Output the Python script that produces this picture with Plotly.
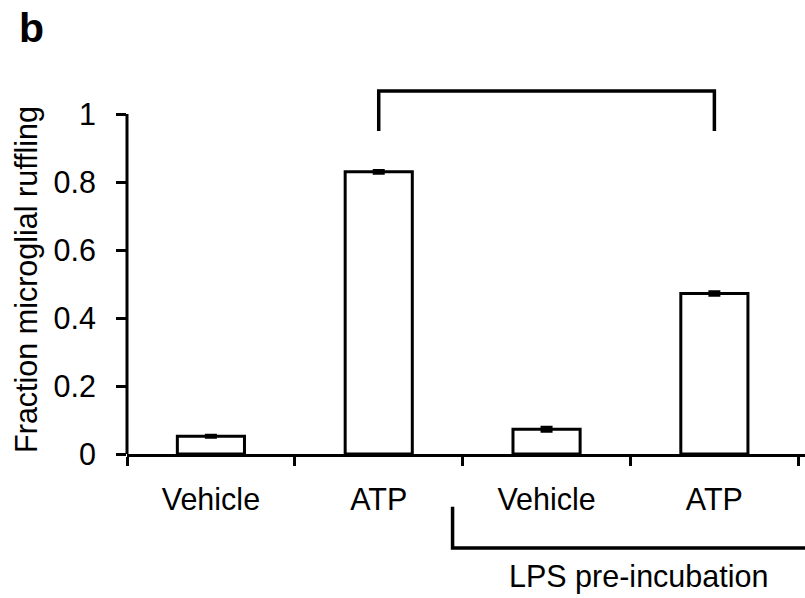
import plotly.graph_objects as go

# ---- data ----
categories = ["Vehicle", "ATP", "Vehicle", "ATP"]
positions = [0, 1, 2, 3]
values = [0.052, 0.830, 0.073, 0.472]
errors = [0.003, 0.004, 0.006, 0.005]
y_tickvals = [0, 0.2, 0.4, 0.6, 0.8, 1.0]
y_ticktext = ["0", "0.2", "0.4", "0.6", "0.8", "1"]
boundaries = [-0.5, 0.5, 1.5, 2.5, 3.5]
y_title = "Fraction microglial ruffling"
group_label = "LPS pre-incubation"
panel_label = "b"

# comparison bracket between the two ATP bars
bracket_pair = [1, 3]
bracket_top = 1.068
bracket_bottom = 0.95

FONT = "Liberation Sans, Arial, Helvetica, sans-serif"
fs = 30.5

fig = go.Figure(
    go.Bar(
        x=positions,
        y=values,
        width=0.4,
        marker=dict(color="white", line=dict(color="black", width=3)),
        error_y=dict(type="data", array=errors, color="black", thickness=3, width=6),
        hoverinfo="skip",
    )
)

shapes = []
# y-axis line from 0 to 1 only
shapes.append(dict(type="line", xref="paper", yref="y", x0=0, x1=0, y0=0, y1=1,
                   line=dict(color="black", width=3)))
# top bracket
shapes.append(dict(type="path", xref="x", yref="y",
                   path=f"M {bracket_pair[0]},{bracket_bottom} L {bracket_pair[0]},{bracket_top} "
                        f"L {bracket_pair[1]},{bracket_top} L {bracket_pair[1]},{bracket_bottom}",
                   line=dict(color="black", width=3.5)))
# LPS group bracket below axis
grp_x0 = 1.44
grp_x1 = 3.6
shapes.append(dict(type="path", xref="x", yref="paper",
                   path=f"M {grp_x0},-0.144 L {grp_x0},-0.256 L {grp_x1},-0.256",
                   line=dict(color="black", width=3.5)))

annotations = [
    dict(text=y_title, textangle=-90, xref="paper", yref="y", x=-0.1475, y=0.515,
         xanchor="center", yanchor="middle", showarrow=False,
         font=dict(family=FONT, size=fs, color="black")),
    dict(text=group_label, xref="x", yref="paper", x=2.545, y=-0.335,
         xanchor="center", yanchor="middle", showarrow=False,
         font=dict(family=FONT, size=fs, color="black")),
    dict(text=f"<b>{panel_label}</b>", xref="paper", yref="paper", x=-0.162, y=1.228,
         xanchor="left", yanchor="top", showarrow=False,
         font=dict(family=FONT, size=41, color="black")),
]

fig.update_layout(
    width=805, height=598,
    margin=dict(l=127, r=0, t=87, b=144, pad=0),
    paper_bgcolor="white", plot_bgcolor="white",
    showlegend=False,
    font=dict(family=FONT, size=fs, color="black"),
    shapes=shapes,
    annotations=annotations,
    xaxis=dict(
        range=[-0.5, 3.54],
        tickmode="array", tickvals=positions, ticktext=categories,
        ticks="", showline=True, linewidth=3, linecolor="black",
        showgrid=False, zeroline=False,
        tickfont=dict(family=FONT, size=fs, color="black"),
        minor=dict(ticks="outside", tickmode="array", tickvals=boundaries,
                   ticklen=9, tickwidth=3, tickcolor="black", showgrid=False),
        ticklabelstandoff=16,
    ),
    yaxis=dict(
        range=[0, 1.0794],
        tickmode="array", tickvals=y_tickvals, ticktext=y_ticktext,
        ticks="outside", ticklen=10, tickwidth=3, tickcolor="black",
        showline=False, showgrid=False, zeroline=False,
        tickfont=dict(family=FONT, size=fs, color="black"),
        ticklabelstandoff=14,
    ),
)

fig.write_html("out.html")
